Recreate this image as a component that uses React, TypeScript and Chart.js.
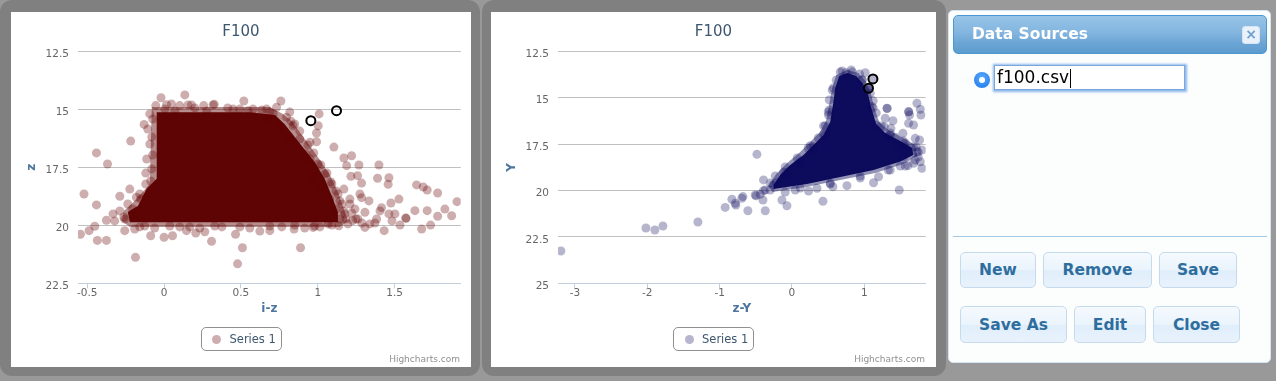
import React, { useEffect, useRef } from "react";
import { Chart, registerables } from "chart.js";

Chart.register(...registerables);

const FONT = '"Lucida Grande", "Lucida Sans Unicode", "DejaVu Sans", Verdana, sans-serif';

const chartTitle = "F100";
const seriesName = "Series 1";
const creditText = "Highcharts.com";

// ---------- Chart A : i-z vs z ----------
const izAxisTitle = "i-z";
const zAxisTitle = "z";
const izTicks = [-0.5, 0, 0.5, 1, 1.5];
const zTicks = [12.5, 15, 17.5, 20, 22.5];
const izRange = [-0.56, 1.93];
const zRange = [12.5, 22.5];

// outline of the saturated (fully overlapped) core of the cloud
const izZCore: [number, number][] = [
  [-0.048, 15.13], [0.558, 15.13], [0.722, 15.25], [0.785, 15.64], [0.895, 16.57],
  [0.981, 17.28], [1.046, 18.0], [1.09, 18.72], [1.131, 19.44], [1.131, 19.87],
  [-0.223, 19.87], [-0.236, 19.43], [-0.169, 19.16], [-0.115, 18.44], [-0.048, 17.99],
  [-0.048, 15.13],
];

// outline of the half-saturated fringe around the core
const izZFringe: [number, number][] = [
  [-0.08, 14.9], [0.59, 14.9], [0.688, 14.9], [0.773, 15.2], [0.831, 15.5], [0.915, 16.28],
  [1.001, 17.06], [1.079, 17.83], [1.131, 18.56], [1.17, 19.3], [1.196, 19.81], [1.144, 20.07],
  [-0.223, 20.07], [-0.275, 19.81], [-0.262, 19.38], [-0.197, 18.99], [-0.139, 18.56],
  [-0.093, 18.22], [-0.08, 14.9],
];

const izZPoints: [number, number][] = [
  [0.135, 14.38], [-0.02, 14.5], [0.519, 14.64], [0.326, 14.78], [0.76, 14.64], [-0.13, 15.65],
  [-0.217, 16.37], [-0.44, 16.88], [-0.368, 17.36], [-0.113, 17.14], [-0.119, 17.75], [-0.521, 18.65],
  [-0.44, 19.12], [-0.288, 18.75], [-0.223, 18.44], [-0.18, 18.79], [-0.332, 19.51], [-0.375, 19.78],
  [-0.451, 20.04], [-0.488, 20.23], [-0.544, 20.39], [-0.434, 20.65], [-0.375, 20.65], [-0.186, 21.38],
  [-0.256, 20.23], [-0.191, 20.16], [-0.087, 20.45], [0.0, 20.52], [0.055, 20.45], [0.146, 20.23],
  [0.206, 20.33], [0.265, 20.28], [0.309, 20.69], [0.465, 20.39], [0.51, 20.97], [0.478, 21.66],
  [0.888, 20.97],
  [1.009, 15.2], [1.003, 15.71], [0.992, 16.02], [0.992, 16.4], [1.105, 16.63], [1.17, 17.1],
  [1.22, 17.0], [1.268, 17.4], [1.188, 17.43], [1.398, 17.4], [1.389, 17.97], [1.463, 17.95],
  [1.458, 18.23], [1.285, 18.18], [1.216, 17.89], [1.259, 17.86], [1.643, 18.26], [1.686, 18.35],
  [1.712, 18.48], [1.78, 18.61], [1.906, 18.98], [1.528, 18.87], [1.476, 19.04], [1.415, 19.24],
  [1.333, 18.95], [1.285, 18.81], [1.632, 19.37], [1.712, 19.37], [1.827, 19.3], [1.871, 19.59],
  [1.78, 19.61], [1.734, 19.99], [1.676, 20.16], [1.572, 19.69], [1.575, 19.7], [1.502, 19.51],
  [1.463, 19.51], [1.432, 20.23], [1.383, 19.73], [1.307, 20.09], [1.307, 19.44], [0.688, 20.23],
  [0.846, 20.16], [0.97, 20.09], [1.068, 19.94], [1.137, 20.02], [1.227, 19.8], [1.274, 18.65],
  [-0.054, 14.84], [0.048, 14.77], [0.156, 14.81], [0.016, 14.8], [0.102, 14.84], [0.178, 14.81],
  [0.258, 14.84], [0.319, 14.81], [0.449, 14.99], [0.547, 15.06], [0.579, 14.99], [0.667, 14.99],
  [0.732, 14.91], [0.797, 15.34], [0.71, 15.2], [0.84, 15.71], [0.949, 16.42],
  [0.883, 16.28], [0.923, 16.93], [1.001, 17.36], [1.046, 17.79], [1.092, 18.22], [1.132, 18.65],
  [1.158, 19.08], [1.176, 19.51], [1.144, 19.73], [1.196, 19.94], [1.118, 19.3], [1.079, 18.87],
  [1.027, 18.35], [0.962, 17.92], [0.818, 16.28], [0.753, 15.76], [0.675, 15.42], [0.85, 15.63],
  [0.949, 17.14], [1.242, 19.3], [1.261, 19.73], [1.339, 19.94], [1.17, 18.44], [1.209, 18.87],
  [-0.093, 15.2], [-0.106, 15.85], [-0.093, 16.5], [-0.119, 18.22], [-0.158, 18.65], [-0.236, 19.08],
  [-0.288, 19.38], [-0.256, 19.73], [-0.321, 19.81],
  [-0.158, 20.07], [-0.061, 20.12], [0.102, 20.07], [0.232, 20.12], [0.376, 20.07], [0.558, 20.12],
  [0.623, 20.25], [0.766, 20.07], [0.915, 20.12], [1.014, 20.07],
  [0.825, 15.51], [0.883, 15.94], [0.936, 16.54], [0.974, 16.88], [1.02, 17.4], [1.06, 17.75],
  [1.085, 18.13], [1.118, 18.52], [1.144, 18.95], [1.17, 19.38], [1.183, 19.73], [1.222, 19.47],
  [1.209, 19.08], [1.248, 19.73], [1.287, 19.9], [1.372, 19.9], [1.405, 19.38], [1.483, 19.81],
  [1.535, 19.99], [0.818, 15.12], [0.636, 15.03], [0.688, 15.12],
  [0.005, 14.99], [0.07, 15.07], [0.2, 14.94], [0.278, 15.07], [0.414, 14.94], [0.493, 14.99],
  [-0.074, 15.42], [-0.08, 16.19], [-0.074, 16.97], [-0.08, 17.57], [-0.087, 18.09], [-0.152, 18.86],
  [-0.204, 19.3], [-0.262, 19.64],
  [-0.126, 20.03], [0.037, 20.03], [0.167, 20.07], [0.33, 20.03], [0.493, 20.07], [0.688, 20.03],
  [0.85, 19.99], [0.98, 20.03], [1.092, 19.99],
];

const izZSelected: [number, number][] = [[0.955, 15.49], [1.122, 15.06]];

// ---------- Chart B : z-Y vs Y ----------
const zyAxisTitle = "z-Y";
const yAxisTitle = "Y";
const zyTicks = [-3, -2, -1, 0, 1];
const yTicks = [12.5, 15, 17.5, 20, 22.5, 25];
const zyRange = [-3.235, 1.85];
const yRange = [12.5, 25];

const zyYCore: [number, number][] = [
  [0.765, 13.67], [0.889, 13.83], [0.986, 14.26], [1.055, 14.85], [1.097, 15.55], [1.166, 16.42],
  [1.29, 16.9], [1.498, 17.33], [1.664, 17.71], [1.678, 18.09], [1.498, 18.44], [1.129, 18.9],
  [0.668, 19.27], [0.207, 19.65], [-0.254, 19.92], [-0.254, 19.7], [-0.162, 19.16], [-0.024, 18.63],
  [0.16, 18.09], [0.299, 17.55], [0.437, 17.01], [0.53, 16.29], [0.567, 15.39], [0.599, 14.48],
  [0.654, 13.83], [0.765, 13.67],
];

const zyYFringe: [number, number][] = [
  [0.765, 13.51], [0.917, 13.67], [1.028, 14.15], [1.097, 14.85], [1.138, 15.55], [1.207, 16.31],
  [1.332, 16.74], [1.539, 17.17], [1.705, 17.55], [1.733, 18.14], [1.539, 18.57], [1.152, 19.06],
  [0.668, 19.44], [0.198, 19.81], [-0.272, 20.08], [-0.328, 19.76], [-0.217, 19.11], [-0.065, 18.52],
  [0.115, 17.93], [0.253, 17.39], [0.391, 16.85], [0.474, 16.21], [0.516, 15.34], [0.557, 14.48],
  [0.612, 13.78], [0.765, 13.51],
];

const zyYPoints: [number, number][] = [
  [-3.195, 23.26], [-2.019, 22.02], [-1.895, 22.13], [-1.784, 21.91], [-1.3, 21.7], [-0.923, 20.91],
  [-0.83, 20.47], [-0.775, 20.78], [-0.678, 20.33], [-0.609, 21.09], [-0.484, 18.05], [-0.494, 20.28],
  [-0.438, 20.2], [-0.401, 20.51], [-0.369, 21.09], [-0.393, 19.43], [-0.393, 20.01], [-0.263, 19.7],
  [-0.138, 20.51], [-0.069, 20.82], [-0.116, 19.02], [-0.047, 18.99], [0.115, 18.57], [0.23, 20.03],
  [0.346, 19.88], [0.429, 20.58], [0.567, 19.8], [0.761, 19.74], [1.129, 19.58], [1.198, 19.26],
  [1.484, 19.97], [0.437, 16.52], [0.437, 16.96], [0.506, 15.93], [0.299, 17.64], [0.253, 17.59],
  [0.751, 13.65], [0.935, 13.72], [1.014, 13.65], [1.083, 14.76], [1.107, 15.48], [1.314, 15.57],
  [1.318, 15.58], [1.29, 16.11], [1.397, 16.24], [1.277, 16.56], [1.369, 16.65], [1.323, 17.1],
  [1.535, 16.92], [1.729, 15.3], [1.775, 15.62], [1.784, 15.93], [1.613, 15.75], [1.616, 15.77],
  [1.627, 15.93], [1.613, 16.38], [1.682, 16.47], [1.705, 17.19], [1.765, 17.28], [1.798, 17.82],
  [1.775, 18.45], [1.798, 18.8], [1.604, 18.66], [1.682, 18.53], [1.544, 18.18], [1.474, 17.64],
  [1.567, 17.64], [1.429, 17.13], [1.682, 17.64], [1.729, 17.91],
  [-0.784, 20.69], [-0.692, 20.42], [-0.508, 20.24],
  [0.571, 14.48], [0.516, 15.66], [0.461, 17.01], [0.308, 17.82], [0.115, 18.46], [-0.093, 19.16],
  [-0.217, 19.59], [-0.3, 19.97], [0.046, 19.97], [0.53, 19.65], [0.945, 19.33], [1.36, 18.9],
  [1.498, 18.68], [1.705, 18.36], [1.747, 17.93], [1.567, 17.44], [1.36, 17.01], [1.166, 16.47],
  [1.124, 15.55], [1.055, 14.58], [0.972, 14.05], [0.834, 13.62], [0.668, 13.62],
  [0.971, 14.03], [1.055, 14.52], [1.124, 15.17], [1.166, 15.82], [1.235, 16.52], [1.36, 16.9],
  [1.539, 17.33], [1.719, 17.66], [1.747, 18.2], [1.567, 18.68], [1.332, 18.9], [0.945, 19.22],
  [0.53, 19.6], [0.115, 19.87], [-0.093, 20.08], [-0.369, 19.97], [-0.3, 19.6],
  [-0.231, 19.22], [-0.093, 18.73], [0.073, 18.25], [0.225, 17.71], [0.364, 17.17], [0.461, 16.52],
  [0.502, 15.77], [0.516, 15.12], [0.557, 14.59], [0.612, 14.05], [0.695, 13.56], [0.82, 13.51],
];

const zyYSelected: [number, number][] = [[1.12, 13.99], [1.059, 14.49]];

// ---------- Data Sources dialog ----------
const dialogTitle = "Data Sources";
const dataSourceFiles = ["f100.csv"];
const buttonRow1 = ["New", "Remove", "Save"];
const buttonRow2 = ["Save As", "Edit", "Close"];

// layout (pixel widths of the dialog buttons, by row)
const buttonRow1Widths = [76, 109, 78];
const buttonRow2Widths = [107, 72, 87];

type Pair = [number, number];
type Spec = {
  core: Pair[];
  fringe: Pair[];
  points: Pair[];
  selected: Pair[];
  xTicks: number[];
  yTicks: number[];
  xRange: number[];
  yRange: number[];
  xTitle: string;
  yTitle: string;
  coreColor: string;
  fringeColor: string;
  dotColor: string;
  ringFill: string;
};

const zip = (pairs: Pair[]) => pairs.map(([x, y]) => ({ x, y }));

function areaDataset(label: string, pairs: Pair[], color: string, order: number) {
  return {
    type: "line",
    label,
    data: zip(pairs),
    showLine: true,
    fill: "shape",
    backgroundColor: color,
    borderColor: "rgba(0,0,0,0)",
    borderWidth: 1,
    pointRadius: 0,
    tension: 0,
    order,
  };
}

function makeConfig(p: Spec): any {
  return {
    type: "scatter",
    data: {
      datasets: [
        {
          label: "selected",
          data: zip(p.selected),
          pointRadius: 4.5,
          pointBorderWidth: 2,
          pointBorderColor: "#000000",
          pointBackgroundColor: p.ringFill,
          order: 0,
        },
        {
          label: seriesName,
          data: zip(p.points),
          pointRadius: 4.5,
          pointBorderWidth: 0,
          pointBorderColor: "rgba(0,0,0,0)",
          pointBackgroundColor: p.dotColor,
          order: 1,
        },
        areaDataset("core", p.core, p.coreColor, 2),
        areaDataset("fringe", p.fringe, p.fringeColor, 3),
      ],
    },
    options: {
      responsive: false,
      animation: false,
      devicePixelRatio: 1,
      layout: { padding: { left: 0, right: 10.3, top: 39.3, bottom: 43.7 } },
      plugins: {
        legend: { display: false },
        title: { display: false },
        tooltip: { enabled: false },
      },
      events: [],
      scales: {
        x: {
          type: "linear",
          min: p.xRange[0],
          max: p.xRange[1],
          afterBuildTicks: (s: any) => {
            s.ticks = p.xTicks.map((v) => ({ value: v }));
          },
          afterFit: (s: any) => {
            s.height = 40;
          },
          grid: {
            display: true,
            drawOnChartArea: false,
            drawTicks: true,
            tickLength: 5,
            color: "#C0D0E0",
            lineWidth: 1,
          },
          border: { display: true, color: "#C0D0E0", width: 1 },
          ticks: {
            color: "#666666",
            font: { family: FONT, size: 10.5 },
            padding: -1.5,
            maxRotation: 0,
            autoSkip: false,
            callback: (v: any) => String(v),
          },
          title: {
            display: true,
            text: p.xTitle,
            color: "#4D759E",
            font: { family: FONT, size: 12, weight: "bold" },
            padding: { top: 0, bottom: 7.1 },
          },
        },
        y: {
          type: "linear",
          reverse: true,
          min: p.yRange[0],
          max: p.yRange[1],
          afterBuildTicks: (s: any) => {
            s.ticks = p.yTicks.map((v) => ({ value: v }));
          },
          afterFit: (s: any) => {
            s.width = 67;
          },
          grid: { color: "#C0C0C0", lineWidth: 1, drawTicks: false },
          border: { display: false },
          ticks: {
            color: "#666666",
            font: { family: FONT, size: 10.5 },
            padding: 9,
            labelOffset: 3,
            autoSkip: false,
            callback: (v: any) => String(v),
          },
          title: {
            display: true,
            text: p.yTitle,
            color: "#4D759E",
            font: { family: FONT, size: 12, weight: "bold" },
            padding: { top: 14, bottom: 0 },
          },
        },
      },
    },
  };
}

function ScatterPanel(props: {
  outerLeft: number;
  outerWidth: number;
  innerLeft: number;
  innerWidth: number;
  spec: Spec;
}) {
  const ref = useRef<HTMLCanvasElement | null>(null);
  const innerTop = 12;
  const innerHeight = 355;
  useEffect(() => {
    if (!ref.current) return;
    const chart = new Chart(ref.current, makeConfig(props.spec));
    return () => chart.destroy();
  }, []);
  const w = props.innerWidth;
  return (
    <>
      <div
        style={{
          position: "absolute",
          left: props.outerLeft,
          top: 0,
          width: props.outerWidth,
          height: 376,
          background: "#808080",
          borderRadius: 12,
        }}
      />
      <div
        style={{
          position: "absolute",
          left: props.innerLeft,
          top: innerTop,
          width: w,
          height: innerHeight,
          background: "#ffffff",
          fontFamily: FONT,
        }}
      >
        <canvas
          ref={ref}
          width={w}
          height={innerHeight}
          style={{ position: "absolute", left: 0, top: 0, width: w, height: innerHeight }}
        />
        <div
          style={{
            position: "absolute",
            left: 0,
            top: 9,
            width: w,
            height: 20,
            lineHeight: "20px",
            textAlign: "center",
            fontSize: 15,
            color: "#3E576F",
          }}
        >
          {chartTitle}
        </div>
        <div
          style={{
            position: "absolute",
            left: (w - 81) / 2,
            top: 315,
            width: 81,
            height: 24,
            boxSizing: "border-box",
            border: "1px solid #909090",
            borderRadius: 5,
          }}
        >
          <div
            style={{
              position: "absolute",
              left: 10.5,
              top: 6.5,
              width: 9,
              height: 9,
              borderRadius: "50%",
              background: props.spec.dotColor,
            }}
          />
          <div
            style={{
              position: "absolute",
              left: 28,
              top: 0,
              height: 22,
              lineHeight: "22px",
              fontSize: 11.5,
              color: "#3E576F",
              whiteSpace: "nowrap",
            }}
          >
            {seriesName}
          </div>
        </div>
        <div
          style={{
            position: "absolute",
            right: 11,
            top: 341,
            height: 12,
            lineHeight: "12px",
            fontSize: 9,
            color: "#909090",
            whiteSpace: "nowrap",
          }}
        >
          {creditText}
        </div>
      </div>
    </>
  );
}

const buttonStyle: React.CSSProperties = {
  boxSizing: "border-box",
  padding: 0,
  border: "1px solid #c5dbec",
  borderRadius: 5,
  background: "linear-gradient(#f4f9fe 0%, #ebf4fc 50%, #e0eefb 52%, #e8f2fc 100%)",
  color: "#2e6e9e",
  fontWeight: "bold",
  fontSize: 15.5,
  display: "flex",
  alignItems: "center",
  justifyContent: "center",
  whiteSpace: "nowrap",
};

function DataSourcesDialog() {
  const D = "DejaVu Sans";
  const font = `"Lucida Grande", "Lucida Sans", "${D}", Arial, sans-serif`;
  return (
    <div style={{ fontFamily: font }}>
      <div
        style={{
          position: "absolute",
          left: 948,
          top: 10,
          width: 323,
          height: 353,
          boxSizing: "border-box",
          background: "#fcfdfd",
          border: "1px solid #d4e4f1",
          borderRadius: 5,
        }}
      />
      <div
        style={{
          position: "absolute",
          left: 953,
          top: 15,
          width: 314,
          height: 39,
          boxSizing: "border-box",
          border: "1px solid #4a97d2",
          borderRadius: 5,
          background: "linear-gradient(#97c4e7 0%, #83b5df 45%, #6aa4d5 75%, #5c9ccc 100%)",
        }}
      >
        <div
          style={{
            position: "absolute",
            left: 18,
            top: 0,
            height: 37,
            lineHeight: "37px",
            color: "#ffffff",
            fontWeight: "bold",
            fontSize: 15.5,
            whiteSpace: "nowrap",
          }}
        >
          {dialogTitle}
        </div>
        <div
          style={{
            position: "absolute",
            left: 288,
            top: 10,
            width: 18,
            height: 18,
            boxSizing: "border-box",
            borderRadius: 3,
            border: "1px solid #d5e5f3",
            background: "#e9f2fa",
            color: "#6f9fcb",
            fontWeight: "bold",
            fontSize: 14,
            lineHeight: "15px",
            textAlign: "center",
          }}
        >
          ×
        </div>
      </div>
      {dataSourceFiles.map((f, i) => (
        <React.Fragment key={f}>
          <div
            style={{
              position: "absolute",
              left: 974,
              top: 71.5 + i * 30,
              width: 16,
              height: 16,
              borderRadius: "50%",
              background: "radial-gradient(circle at 50% 35%, #5aa9fb 0%, #2c86f2 70%, #2178e6 100%)",
            }}
          >
            <div
              style={{
                position: "absolute",
                left: 5,
                top: 5,
                width: 6,
                height: 6,
                borderRadius: "50%",
                background: "#ffffff",
              }}
            />
          </div>
          <div
            style={{
              position: "absolute",
              left: 994,
              top: 65 + i * 30,
              width: 191,
              height: 25,
              boxSizing: "border-box",
              border: "1px solid #7ba7db",
              boxShadow: "0 0 2px 1.5px rgba(100,160,230,0.75)",
              background: "#ffffff",
              fontFamily: `"${D}", sans-serif`,
              fontSize: 17,
              lineHeight: "23px",
              paddingLeft: 2,
              color: "#000000",
              whiteSpace: "nowrap",
            }}
          >
            {f}
            <span
              style={{
                display: "inline-block",
                width: 1,
                height: 19,
                background: "#000000",
                verticalAlign: "middle",
                marginLeft: 1,
              }}
            />
          </div>
        </React.Fragment>
      ))}
      <div
        style={{
          position: "absolute",
          left: 953,
          top: 236,
          width: 314,
          height: 1,
          background: "#a6c9e2",
        }}
      />
      <div style={{ position: "absolute", left: 960, top: 252, height: 36, display: "flex", gap: 7 }}>
        {buttonRow1.map((b, i) => (
          <div key={b} style={{ ...buttonStyle, height: 36, width: buttonRow1Widths[i] }}>
            {b}
          </div>
        ))}
      </div>
      <div style={{ position: "absolute", left: 960, top: 306, height: 37, display: "flex", gap: 7 }}>
        {buttonRow2.map((b, i) => (
          <div key={b} style={{ ...buttonStyle, height: 37, width: buttonRow2Widths[i] }}>
            {b}
          </div>
        ))}
      </div>
    </div>
  );
}

const specA: Spec = {
  core: izZCore,
  fringe: izZFringe,
  points: izZPoints,
  selected: izZSelected,
  xTicks: izTicks,
  yTicks: zTicks,
  xRange: izRange,
  yRange: zRange,
  xTitle: izAxisTitle,
  yTitle: zAxisTitle,
  coreColor: "#5e0404",
  fringeColor: "rgba(94,4,4,0.45)",
  dotColor: "rgba(100,0,0,0.32)",
  ringFill: "rgba(255,255,255,0)",
};

const specB: Spec = {
  core: zyYCore,
  fringe: zyYFringe,
  points: zyYPoints,
  selected: zyYSelected,
  xTicks: zyTicks,
  yTicks: yTicks,
  xRange: zyRange,
  yRange: yRange,
  xTitle: zyAxisTitle,
  yTitle: yAxisTitle,
  coreColor: "#0c0b5c",
  fringeColor: "rgba(12,11,92,0.45)",
  dotColor: "rgba(12,10,92,0.3)",
  ringFill: "rgba(12,10,92,0.3)",
};

export default function App() {
  return (
    <div
      style={{
        position: "fixed",
        left: 0,
        top: 0,
        width: 1276,
        height: 381,
        background: "#999999",
        overflow: "hidden",
      }}
    >
      <ScatterPanel outerLeft={0} outerWidth={480} innerLeft={11} innerWidth={460} spec={specA} />
      <ScatterPanel outerLeft={482} outerWidth={464} innerLeft={491} innerWidth={445} spec={specB} />
      <DataSourcesDialog />
    </div>
  );
}
